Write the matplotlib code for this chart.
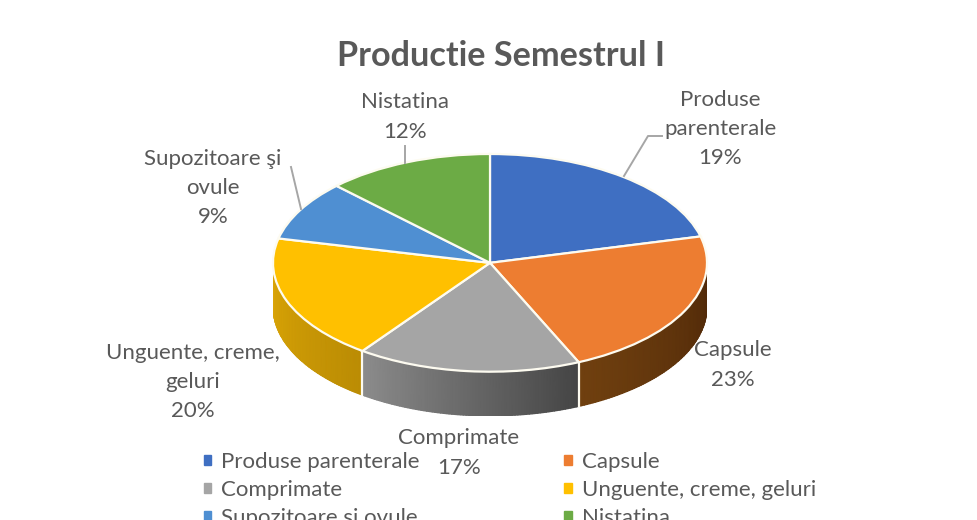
import numpy as np
import matplotlib
matplotlib.use('Agg')
import matplotlib.pyplot as plt
from matplotlib.colors import LinearSegmentedColormap
from matplotlib.patches import Rectangle

plt.rcParams['font.family'] = ['Lato', 'DejaVu Sans']

# Legend names and the percentages printed on the labels
categories = ['Produse parenterale', 'Capsule', 'Comprimate',
              'Unguente, creme, geluri', 'Supozitoare şi ovule', 'Nistatina']
label_names = ['Produse\nparenterale', 'Capsule', 'Comprimate',
               'Unguente, creme,\ngeluri', 'Supozitoare şi\novule', 'Nistatina']
percents = [19, 23, 17, 20, 9, 12]
# Slice shares as drawn in the picture (the perspective makes them differ from the labels)
drawn_shares = [21.1, 22.2, 16.7, 18.6, 8.9, 12.5]
colors = ['#3f6fc2', '#ed7d31', '#a5a5a5', '#ffc000', '#4f8fd2', '#6cab45']
label_pos = [(720, 129), (733, 365), (459, 453), (193, 382), (213, 188), (405, 117)]

text_color = '#595959'
line_color = '#a6a6a6'
W, H = 977, 520
rim_depth = 0.407

fig = plt.figure(figsize=(W / 100, H / 100), dpi=100)

# Pie axes, stretched so the circle turns into the tilted ellipse
left, right, top, bottom = 273, 707, 154, 416
ax = fig.add_axes([left / W, 1 - bottom / H, (right - left) / W, (bottom - top) / H])
wedges, _ = ax.pie(drawn_shares, colors=colors, startangle=90, counterclock=False,
                   wedgeprops={'edgecolor': '#fdfbf0', 'linewidth': 1.6, 'zorder': 3})
ax.set_aspect('auto')
ax.set_xlim(-1, 1)
ax.set_ylim(-1 - rim_depth, 1)


# Side wall of the slices facing the viewer, with a smooth gradient along the rim
def wall(a0, a1, c0, c1):
    theta = np.radians(np.linspace(a0, a1, 80))
    x = np.vstack([np.cos(theta), np.cos(theta)])
    y = np.vstack([np.sin(theta), np.sin(theta) - rim_depth])
    c = np.vstack([np.linspace(0, 1, 80), np.linspace(0, 1, 80)])
    cmap = LinearSegmentedColormap.from_list('wall', [c0, c1])
    ax.pcolormesh(x, y, c, cmap=cmap, vmin=0, vmax=1, shading='gouraud', zorder=1)


boundaries = 90 - np.cumsum(drawn_shares) * 3.6
wall(0, boundaries[1], '#4f2808', '#70400f')
wall(boundaries[1], boundaries[2], '#454545', '#8c8c8c')
wall(boundaries[2], -180, '#bb8c04', '#dca606')
for b in boundaries[1:3]:
    x = np.cos(np.radians(b))
    y = np.sin(np.radians(b))
    ax.plot([x, x], [y, y - rim_depth], color='#fdfbf0', lw=1.6, zorder=2)

# Overlay in pixel coordinates for the texts and the leader lines
ov = fig.add_axes([0, 0, 1, 1], facecolor='none')
ov.set_xlim(0, W)
ov.set_ylim(H, 0)
ov.axis('off')

ov.text(501, 56, 'Productie Semestrul I', ha='center', va='center',
        fontsize=24.7, fontweight='bold', color=text_color)

for name, pct, (x, y) in zip(label_names, percents, label_pos):
    ov.text(x, y, f'{name}\n{pct}%', ha='center', va='center', fontsize=16,
            color=text_color, linespacing=1.58, zorder=5)

ov.plot([624, 648, 662], [176, 136, 136], color=line_color, lw=1.4)
ov.plot([301, 291], [209, 167], color=line_color, lw=1.4)
ov.plot([405, 405], [163, 146], color=line_color, lw=1.4)

# Legend, filled column by column so it reads row by row like the original
handles = [Rectangle((0, 0), 1, 1, color=c) for c in colors]
order = [0, 2, 4, 1, 3, 5]
ov.legend([handles[i] for i in order], [categories[i] for i in order], ncol=2,
          loc='upper left', bbox_to_anchor=(197 / W, 1 - 445 / H), frameon=False,
          fontsize=16, labelcolor=text_color, handlelength=0.33, handleheight=0.33,
          handletextpad=0.47, columnspacing=6.5, labelspacing=0.36, borderpad=0.3,
          borderaxespad=0)

fig.savefig('out.png', dpi=100)
